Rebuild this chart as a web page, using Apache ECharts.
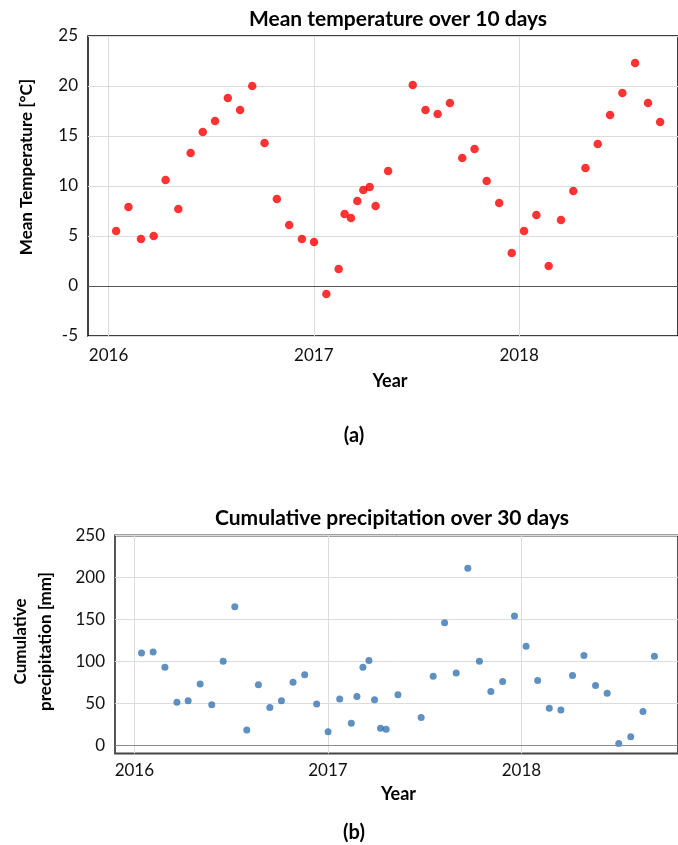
<!DOCTYPE html>
<html>
<head>
<meta charset="utf-8">
<script src="https://cdn.jsdelivr.net/npm/echarts@6/dist/echarts.min.js"></script>
<style>
html,body{margin:0;padding:0;background:#fff;}
#c{width:678px;height:845px;}
</style>
</head>
<body>
<div id="c"></div>
<script>
// Sampling dates (decimal years), shared by both panels
const years = [2016.037,2016.097,2016.158,2016.220,2016.278,2016.340,2016.400,2016.459,2016.519,2016.581,
  2016.641,2016.700,2016.760,2016.820,2016.880,2016.942,2017.001,2017.061,2017.121,2017.150,
  2017.181,2017.212,2017.241,2017.272,2017.301,2017.362,2017.482,2017.544,2017.603,2017.663,
  2017.723,2017.783,2017.842,2017.903,2017.964,2018.024,2018.084,2018.144,2018.204,2018.264,
  2018.323,2018.383,2018.443,2018.503,2018.565,2018.628,2018.687];
// Mean temperature over 10 days [°C]
const meanTemp = [5.5,7.9,4.7,5.0,10.6,7.7,13.3,15.4,16.5,18.8,
  17.6,20.0,14.3,8.7,6.1,4.7,4.4,-0.8,1.7,7.2,
  6.8,8.5,9.6,9.9,8.0,11.5,20.1,17.6,17.2,18.3,
  12.8,13.7,10.5,8.3,3.3,5.5,7.1,2.0,6.6,9.5,
  11.8,14.2,17.1,19.3,22.3,18.3,16.4];
// Cumulative precipitation over 30 days [mm]
const precip = [110,111,93,51,53,73,48,100,165,18,
  72,45,53,75,84,49,16,55,26,58,
  93,101,54,20,19,60,33,82,146,86,
  211,100,64,76,154,118,77,44,42,83,
  107,71,62,2,10,40,106];
const yearTicks = [2016,2017,2018];
const tempTicks = [-5,0,5,10,15,20,25];
const precipTicks = [0,50,100,150,200,250];

const FONT = 'Lato';
const chart = echarts.init(document.getElementById('c'), null, {renderer:'canvas'});
const gridLine = {show:true, lineStyle:{color:'#dcdcdc', width:1}};
const tickLabel = {color:'#111', fontSize:17, fontFamily:FONT};
const nameStyle = {color:'#000', fontSize:17, fontWeight:'bold', fontFamily:FONT};
const titleStyle = {fontSize:21, fontWeight:'bold', color:'#000', fontFamily:FONT};

chart.setOption({
  animation:false,
  backgroundColor:'#fff',
  title:[
    {text:'Mean temperature over 10 days', left:393, top:4, textAlign:'center', textStyle:titleStyle},
    {text:'(a)', left:349, top:421, textAlign:'center',
      textStyle:{fontSize:20, fontWeight:'bold', color:'#000', fontFamily:FONT}},
    {text:'Cumulative precipitation over 30 days', left:387, top:503, textAlign:'center', textStyle:titleStyle},
    {text:'(b)', left:349, top:818, textAlign:'center',
      textStyle:{fontSize:20, fontWeight:'bold', color:'#000', fontFamily:FONT}}
  ],
  grid:[
    {left:88, top:36, right:-2, height:300, show:true, borderColor:'#000', borderWidth:1.5, containLabel:false},
    {left:109, top:535.5, right:-2, height:218, show:true, borderColor:'#444', borderWidth:1.8, containLabel:false}
  ],
  xAxis:[
    {type:'value', gridIndex:0, min:2015.9, max:2018.774,
      name:'Year', nameLocation:'middle', nameGap:36,
      nameTextStyle:Object.assign({}, nameStyle, {fontSize:18, padding:[0,0,0,14]}),
      axisLine:{show:false}, axisTick:{show:false, customValues:yearTicks},
      axisLabel:Object.assign({customValues:yearTicks, margin:11, formatter:v=>String(v)}, tickLabel),
      splitLine:gridLine},
    {type:'value', gridIndex:1, min:2015.9, max:2018.809,
      name:'Year', nameLocation:'middle', nameGap:32,
      nameTextStyle:Object.assign({}, nameStyle, {fontSize:18, padding:[0,0,0,4]}),
      axisLine:{show:false}, axisTick:{show:false, customValues:yearTicks},
      axisLabel:Object.assign({customValues:yearTicks, margin:9, formatter:v=>String(v)}, tickLabel),
      splitLine:gridLine}
  ],
  yAxis:[
    {type:'value', gridIndex:0, min:-5, max:25, interval:5,
      name:'Mean Temperature [°C]', nameLocation:'middle', nameGap:53, nameRotate:90,
      nameTextStyle:Object.assign({}, nameStyle, {padding:[0,0,0,38]}),
      axisLine:{show:false}, axisTick:{show:false},
      axisLabel:Object.assign({margin:10}, tickLabel),
      splitLine:gridLine},
    {type:'value', gridIndex:1, min:-10, max:250,
      name:'Cumulative\nprecipitation [mm]', nameLocation:'middle', nameGap:57, nameRotate:90,
      nameTextStyle:Object.assign({}, nameStyle, {lineHeight:25, padding:[0,0,0,6]}),
      axisLine:{show:false}, axisTick:{show:false, customValues:precipTicks},
      axisLabel:Object.assign({margin:10, customValues:precipTicks}, tickLabel),
      splitLine:gridLine}
  ],
  series:[
    {type:'scatter', xAxisIndex:0, yAxisIndex:0, symbolSize:8.5,
      itemStyle:{color:'#ff0000'},
      data: years.map((y,i)=>[y, meanTemp[i]]),
      markLine:{silent:true, symbol:'none', label:{show:false},
        lineStyle:{color:'#555', width:1.2, type:'solid'}, data:[{yAxis:0}]}},
    {type:'scatter', xAxisIndex:1, yAxisIndex:1, symbolSize:7,
      itemStyle:{color:'#3674b3'},
      data: years.map((y,i)=>[y, precip[i]]),
      markLine:{silent:true, symbol:'none', label:{show:false},
        lineStyle:{color:'#8a8a8a', width:1.2, type:'solid'}, data:[{yAxis:0}]}}
  ]
});
</script>
</body>
</html>
